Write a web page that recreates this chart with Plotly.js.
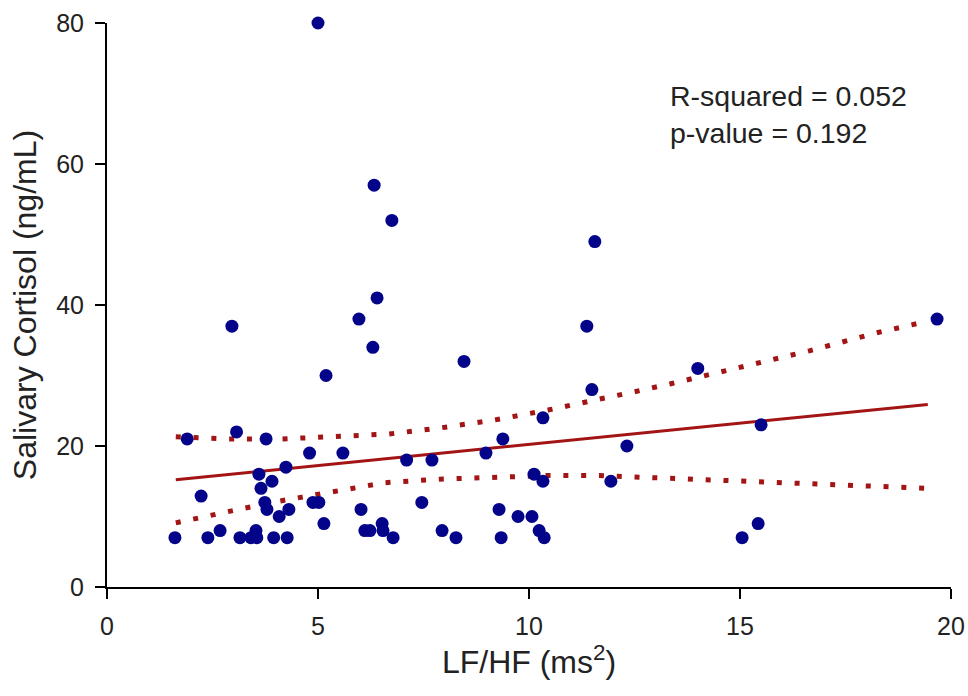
<!DOCTYPE html>
<html>
<head>
<meta charset="utf-8">
<script src="https://cdn.plot.ly/plotly-3.0.1.min.js"></script>
<style>html,body{margin:0;padding:0;background:#fff;}#chart{width:968px;height:696px;}</style>
</head>
<body>
<div id="chart"></div>
<script>
// Observed data (LF/HF vs salivary cortisol)
const lfhf = [1.61, 1.90, 2.23, 2.39, 2.68, 2.96, 3.07, 3.15, 3.41, 3.53, 3.55, 3.60, 3.65, 3.74, 3.77, 3.79, 3.91, 3.95, 4.08, 4.24, 4.27, 4.31, 4.80, 4.88, 5.00, 5.02, 5.14, 5.19, 5.59, 5.97, 6.02, 6.11, 6.23, 6.30, 6.33, 6.40, 6.52, 6.54, 6.75, 6.78, 7.10, 7.46, 7.70, 7.94, 8.27, 8.46, 8.98, 9.29, 9.34, 9.38, 9.74, 10.07, 10.12, 10.24, 10.33, 10.33, 10.36, 11.37, 11.49, 11.56, 11.94, 12.32, 14.00, 15.05, 15.43, 15.50, 19.67];
const cortisol = [7, 21, 12.9, 7, 8, 37, 22, 7, 7, 8, 7, 16, 14, 12, 21, 11, 15, 7, 10, 17, 7, 11, 19, 12, 80, 12, 9, 30, 19, 38, 11, 8, 8, 34, 57, 41, 9, 8, 52, 7, 18, 12, 18, 8, 7, 32, 19, 11, 7, 21, 10, 10, 16, 8, 24, 15, 7, 37, 28, 49, 15, 20, 31, 7, 9, 23, 38];

// Fitted regression line
const fitX = [1.63, 19.45];
const fitY = [15.2, 25.9];

// Confidence band
const upperX = [1.63, 2.87, 4.15, 5.43, 6.68, 7.94, 9.19, 10.45, 11.28, 12.5, 13.34, 14.98, 16.64, 18.27, 19.1, 19.45];
const upperY = [21.3, 21.0, 21.0, 21.3, 21.7, 22.6, 23.7, 25.1, 26.1, 27.7, 28.8, 31.2, 33.5, 36.1, 37.2, 37.7];
const lowerX = [1.63, 2.44, 3.27, 4.10, 4.93, 5.76, 6.59, 7.87, 9.15, 10.40, 11.66, 12.94, 14.64, 16.33, 18.00, 19.29, 19.45];
const lowerY = [9.1, 10.2, 11.2, 12.2, 13.1, 14.0, 14.8, 15.3, 15.6, 15.8, 15.8, 15.5, 15.2, 14.8, 14.3, 14.1, 14.0];

const xTicks = [0, 5, 10, 15, 20];
const yTicks = [0, 20, 40, 60, 80];
const statsText = ["R-squared = 0.052", "p-value = 0.192"];

const red = '#a31414';
const FONT = 'Arial, "Liberation Sans", sans-serif';

const traces = [
  {x: upperX, y: upperY, mode: 'lines', line: {color: red, width: 5, dash: '5px,12.8px'}, hoverinfo: 'skip'},
  {x: lowerX, y: lowerY, mode: 'lines', line: {color: red, width: 5, dash: '5px,12.8px'}, hoverinfo: 'skip'},
  {x: fitX, y: fitY, mode: 'lines', line: {color: red, width: 3}},
  {x: lfhf, y: cortisol, mode: 'markers', cliponaxis: false, marker: {color: '#04048a', size: 13}}
];

const axisCommon = {
  showline: true, linecolor: '#000', linewidth: 2, mirror: false,
  ticks: 'outside', ticklen: 10, tickwidth: 2, tickcolor: '#000',
  showgrid: false, zeroline: false,
  tickfont: {family: FONT, size: 25, color: '#222'}
};

const layout = {
  width: 968, height: 696,
  margin: {l: 107, r: 17, t: 23, b: 109},
  paper_bgcolor: '#fff', plot_bgcolor: '#fff',
  showlegend: false,
  font: {family: FONT, color: '#222'},
  xaxis: Object.assign({}, axisCommon, {
    range: [0, 20], tickvals: xTicks, ticktext: xTicks.map(String),
    ticklabelstandoff: 6,
    title: {text: 'LF/HF (ms<sup>2</sup>)', font: {family: FONT, size: 32, color: '#222'}, standoff: 12}
  }),
  yaxis: Object.assign({}, axisCommon, {
    range: [0, 80], tickvals: yTicks, ticktext: yTicks.map(String),
    ticklabelstandoff: 6,
    title: {text: 'Salivary Cortisol (ng/mL)', font: {family: FONT, size: 32, color: '#222'}, standoff: 10}
  }),
  annotations: [{
    xref: 'x', yref: 'y', x: 13.3, y: 72.2, xanchor: 'left', yanchor: 'top',
    text: statsText.join('<br>'), showarrow: false, align: 'left',
    font: {family: FONT, size: 28.5, color: '#222'}
  }]
};

Plotly.newPlot('chart', traces, layout, {staticPlot: true, displayModeBar: false});
</script>
</body>
</html>
